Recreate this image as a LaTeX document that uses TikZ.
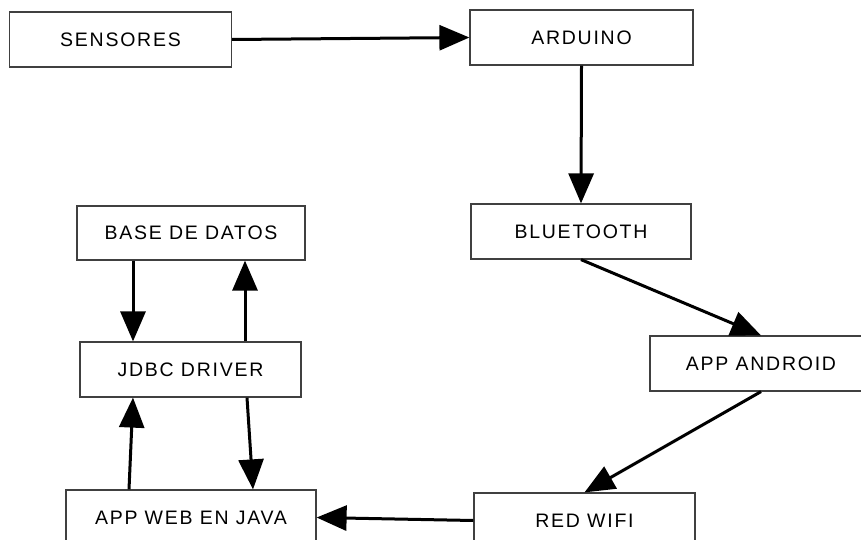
\documentclass[tikz,border=0pt]{standalone}
\usepackage{fontspec}
\newfontfamily\labfont[LetterSpace=9]{Liberation Sans}
\usetikzlibrary{arrows.meta}
\tikzset{
  box/.style={draw=black!75, line width=1.2pt, fill=white, rectangle, inner sep=0pt,
    minimum height=55pt, font=\labfont\fontsize{19.5}{22}\selectfont},
  conn/.style={line width=3pt, -{Triangle[length=30pt,width=25pt]}}
}
\begin{document}
\begin{tikzpicture}[x=1pt,y=-1pt]
\clip (0,0) rectangle (861,540);
\fill[white] (0,0) rectangle (861,540);
\node[box, minimum width=222pt] (sens) at (120.5,39.5) {SENSORES};
\node[box, minimum width=223pt] (ard) at (581.5,37.5) {ARDUINO};
\node[box, minimum width=220pt] (blue) at (581,231.5) {BLUETOOTH};
\node[box, minimum width=228pt, minimum height=54pt] (base) at (191,233) {BASE DE DATOS};
\node[box, minimum width=221pt] (jdbc) at (190.5,369.5) {JDBC DRIVER};
\node[box, minimum width=222pt] (andr) at (761,363.5) {APP ANDROID};
\node[box, minimum width=221pt] (wifi) at (584.5,520.5) {RED WIFI};
\node[box, minimum width=250pt] (web) at (191,517.5) {APP WEB EN JAVA};
\draw[conn] (sens.east) -- (ard.west);
\draw[conn] (ard.south) -- (blue.north);
\draw[conn] (blue.south) -- (andr.north);
\draw[conn] (andr.south) -- (wifi.north);
\draw[conn] (wifi.west) -- (web.east);
\draw[conn] ([xshift=-62pt]web.north) -- ([xshift=-57.5pt]jdbc.south);
\draw[conn] ([xshift=56.5pt]jdbc.south) -- ([xshift=62pt]web.north);
\draw[conn] ([xshift=-58pt]base.south) -- ([xshift=-57.5pt]jdbc.north);
\draw[conn] ([xshift=54.5pt]jdbc.north) -- ([xshift=54pt]base.south);
\end{tikzpicture}
\end{document}
